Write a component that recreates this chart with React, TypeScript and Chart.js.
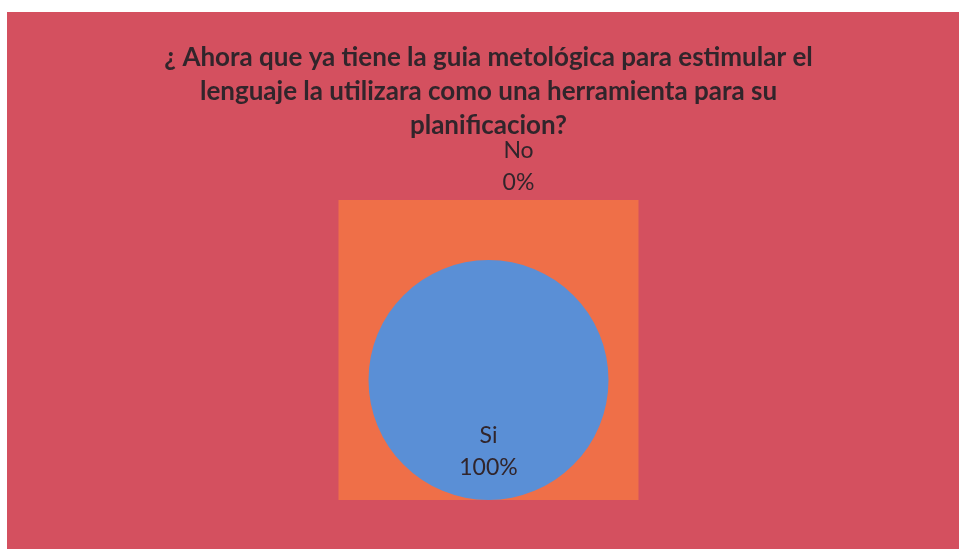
import React, { useEffect, useRef } from "react";
import { Chart, registerables } from "chart.js";

Chart.register(...registerables);

const categories = ["Si", "No"];
const values = [100, 0];
const percentLabels = ["100%", "0%"];
const sliceColors = ["#5a8fd6", "#f0704a"];
const titleLines = [
  "¿ Ahora que ya tiene la guia metológica para estimular el",
  "lenguaje la utilizara como una herramienta para su",
  "planificacion?",
];

const PAGE_BG = "#ffffff";
const FRAME_BG = "#d4505f";
const PLOT_BG = "#ef6f48";
const TEXT_COLOR = "#31252b";
const TITLE_SIZE = 26;

const backgroundPlugin = {
  id: "bgPlugin",
  beforeDraw(chart: any) {
    const { ctx, width, height } = chart;
    ctx.save();
    ctx.fillStyle = PAGE_BG;
    ctx.fillRect(0, 0, width, height);
    ctx.fillStyle = FRAME_BG;
    ctx.fillRect(7, 12, width - 7, height - 17);
    const arc = chart.getDatasetMeta(0).data[0];
    if (arc) {
      const r = arc.outerRadius;
      const half = r * 1.25;
      const bottom = arc.y + r;
      ctx.fillStyle = PLOT_BG;
      ctx.fillRect(arc.x - half, bottom - 2 * half, 2 * half, 2 * half);
    }
    ctx.restore();
  },
};

const labelPlugin = {
  id: "sliceLabels",
  afterDatasetsDraw(chart: any) {
    const { ctx } = chart;
    const meta = chart.getDatasetMeta(0);
    ctx.save();
    ctx.fillStyle = TEXT_COLOR;
    ctx.font = "23px Lato";
    ctx.textAlign = "center";
    ctx.textBaseline = "middle";
    meta.data.forEach((arc: any, i: number) => {
      const r = arc.outerRadius;
      let x: number, y: number;
      if (values[i] > 0) {
        const mid = (arc.startAngle + arc.endAngle) / 2;
        x = arc.x + Math.cos(mid) * r * 0.6;
        y = arc.y + Math.sin(mid) * r * 0.6;
      } else {
        const a = arc.startAngle;
        x = arc.x + Math.cos(a) * r * 1.78 + r * 0.25;
        y = arc.y + Math.sin(a) * r * 1.78;
      }
      ctx.fillText(categories[i], x, y - 16);
      ctx.fillText(percentLabels[i], x, y + 16);
    });
    ctx.restore();
  },
};

export default function App() {
  const ref = useRef<HTMLCanvasElement>(null);
  useEffect(() => {
    if (!ref.current) return;
    const chart = new Chart(ref.current, {
      type: "pie",
      data: {
        labels: categories,
        datasets: [
          {
            data: values,
            backgroundColor: sliceColors,
            borderWidth: 0,
          },
        ],
      },
      options: {
        responsive: false,
        animation: false,
        layout: { padding: { left: 18, right: 0, top: 0, bottom: 54 } },
        plugins: {
          legend: { display: false },
          tooltip: { enabled: false },
          title: {
            display: true,
            text: titleLines,
            color: TEXT_COLOR,
            font: { family: "Lato", size: TITLE_SIZE, weight: "bold", lineHeight: 34 / TITLE_SIZE },
            padding: { top: 41, bottom: 117 },
          },
        },
      },
      plugins: [backgroundPlugin, labelPlugin],
    });
    return () => chart.destroy();
  }, []);
  return (
    <div style={{ position: "fixed", left: 0, top: 0, width: 959, height: 554 }}>
      <canvas ref={ref} width={959} height={554} />
    </div>
  );
}
